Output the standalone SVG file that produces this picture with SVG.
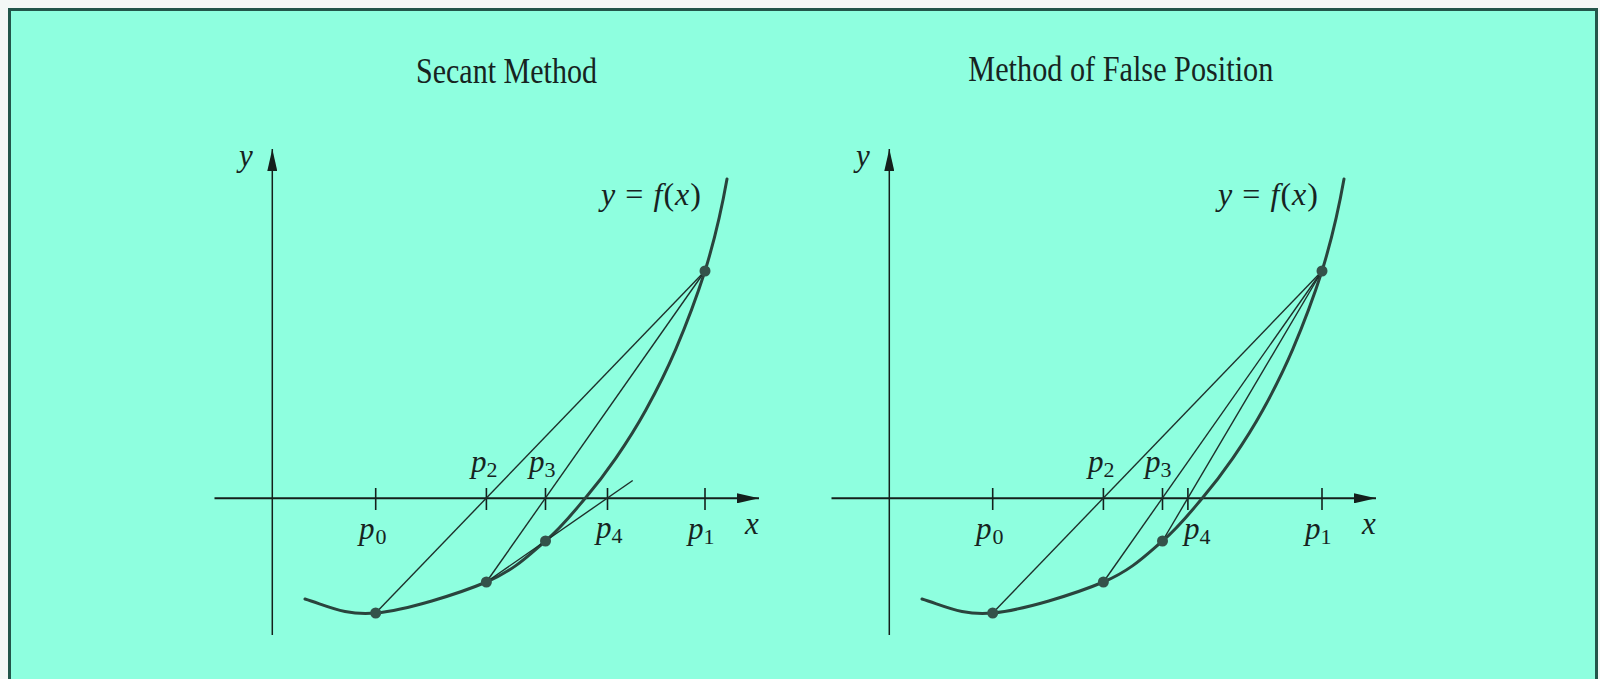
<svg xmlns="http://www.w3.org/2000/svg" width="1600" height="679" viewBox="0 0 1600 679">
<defs>
<style>
.title{font-family:"Liberation Serif","Times New Roman",serif;font-size:36px;fill:#17241f}
.lbl{font-family:"Liberation Serif","Times New Roman",serif;font-size:31px;font-style:italic;fill:#17241f}
.fx{font-size:32px}
.sub{font-size:22px;font-style:normal}
.up{font-style:normal}
.axis{stroke:#14201c;stroke-width:2;fill:none}
.yaxis{stroke:#14201c;stroke-width:1.5;fill:none}
.tick{stroke:#14201c;stroke-width:1.6}
.curve{stroke:#2a443d;stroke-width:3;fill:none;stroke-linecap:round}
.sec{stroke:#1e302b;stroke-width:1.4;fill:none}
.dot{fill:#34524a}
</style>
<marker id="arr" viewBox="0 0 22 10" refX="22" refY="5" markerWidth="22" markerHeight="10" orient="auto" markerUnits="userSpaceOnUse">
<path d="M0,0 L22,5 L0,10 z" fill="#14201c"/>
</marker>
<path id="fcurve" d="M305,599 C328,606 345.47,615.83 375.7,613 C405.93,610.17 458.1,594 486.4,582 C514.7,570 529.07,554.92 545.5,541 C561.93,527.08 573.3,512.27 585,498.5 C596.7,484.73 605.58,473.1 615.7,458.4 C625.82,443.7 635.7,428.47 645.7,410.3 C655.7,392.13 665.82,372.62 675.7,349.4 C685.58,326.18 695.83,299.57 705,271 C713.5,243.5 721.5,210 727,179"/>
</defs>
<rect x="0" y="0" width="1600" height="679" fill="#f4f8f6"/>
<rect id="frame" x="9.5" y="9.5" width="1587" height="700" fill="#8effdf" stroke="#22564a" stroke-width="3"/>

<g id="panel-secant">
<text class="title" x="506.5" y="82.5" text-anchor="middle" textLength="181" lengthAdjust="spacingAndGlyphs">Secant Method</text>
<g id="axes-secant">
<line class="yaxis" x1="272.3" y1="635" x2="272.3" y2="149" marker-end="url(#arr)"/>
<line class="axis" x1="214.5" y1="498.3" x2="759" y2="498.3" marker-end="url(#arr)"/>
<line class="tick" x1="375.7" y1="488" x2="375.7" y2="510"/>
<line class="tick" x1="486.4" y1="488" x2="486.4" y2="510"/>
<line class="tick" x1="545.5" y1="488" x2="545.5" y2="510"/>
<line class="tick" x1="607.5" y1="488" x2="607.5" y2="510"/>
<line class="tick" x1="705" y1="488" x2="705" y2="510"/>
</g>
<use href="#fcurve" class="curve"/>
<g id="connectors-secant">
<line class="sec" x1="375.7" y1="613" x2="705" y2="271"/>
<line class="sec" x1="486.4" y1="582" x2="705" y2="271"/>
<line class="sec" x1="486.4" y1="582" x2="632.7" y2="480.5"/>
</g>
<g id="points-secant">
<circle class="dot" cx="375.7" cy="613" r="5.5"/>
<circle class="dot" cx="486.4" cy="582" r="5.5"/>
<circle class="dot" cx="545.5" cy="541" r="5.5"/>
<circle class="dot" cx="705" cy="271" r="5.5"/>
</g>
<g id="labels-secant">
<text class="lbl" x="239" y="166">y</text>
<text class="lbl" x="745" y="534">x</text>
<text class="lbl fx" x="601" y="205" textLength="100" lengthAdjust="spacing">y <tspan class="up">=</tspan> f<tspan class="up">(</tspan>x<tspan class="up">)</tspan></text>
<text class="lbl" x="359" y="539">p<tspan class="sub" dx="1" dy="5">0</tspan></text>
<text class="lbl" x="471" y="472">p<tspan class="sub" dx="0" dy="5">2</tspan></text>
<text class="lbl" x="529" y="472">p<tspan class="sub" dx="0" dy="5">3</tspan></text>
<text class="lbl" x="596" y="538">p<tspan class="sub" dx="0" dy="5">4</tspan></text>
<text class="lbl" x="688" y="539">p<tspan class="sub" dx="0" dy="5">1</tspan></text>
</g>
</g>

<g id="panel-falsepos" transform="translate(617,0)">
<text class="title" x="503.8" y="81" text-anchor="middle" textLength="305" lengthAdjust="spacingAndGlyphs">Method of False Position</text>
<g id="axes-falsepos">
<line class="yaxis" x1="272.3" y1="635" x2="272.3" y2="149" marker-end="url(#arr)"/>
<line class="axis" x1="214.5" y1="498.3" x2="759" y2="498.3" marker-end="url(#arr)"/>
<line class="tick" x1="375.7" y1="488" x2="375.7" y2="510"/>
<line class="tick" x1="486.4" y1="488" x2="486.4" y2="510"/>
<line class="tick" x1="545.5" y1="488" x2="545.5" y2="510"/>
<line class="tick" x1="570.9" y1="488" x2="570.9" y2="510"/>
<line class="tick" x1="705" y1="488" x2="705" y2="510"/>
</g>
<use href="#fcurve" class="curve"/>
<g id="connectors-falsepos">
<line class="sec" x1="375.7" y1="613" x2="705" y2="271"/>
<line class="sec" x1="486.4" y1="582" x2="705" y2="271"/>
<line class="sec" x1="545.5" y1="541" x2="705" y2="271"/>
</g>
<g id="points-falsepos">
<circle class="dot" cx="375.7" cy="613" r="5.5"/>
<circle class="dot" cx="486.4" cy="582" r="5.5"/>
<circle class="dot" cx="545.5" cy="541" r="5.5"/>
<circle class="dot" cx="705" cy="271" r="5.5"/>
</g>
<g id="labels-falsepos">
<text class="lbl" x="239" y="166">y</text>
<text class="lbl" x="745" y="534">x</text>
<text class="lbl fx" x="601" y="205" textLength="100" lengthAdjust="spacing">y <tspan class="up">=</tspan> f<tspan class="up">(</tspan>x<tspan class="up">)</tspan></text>
<text class="lbl" x="359" y="539">p<tspan class="sub" dx="1" dy="5">0</tspan></text>
<text class="lbl" x="471" y="472">p<tspan class="sub" dx="0" dy="5">2</tspan></text>
<text class="lbl" x="528" y="472">p<tspan class="sub" dx="0" dy="5">3</tspan></text>
<text class="lbl" x="567" y="539">p<tspan class="sub" dx="0" dy="5">4</tspan></text>
<text class="lbl" x="688" y="539">p<tspan class="sub" dx="0" dy="5">1</tspan></text>
</g>
</g>
</svg>
